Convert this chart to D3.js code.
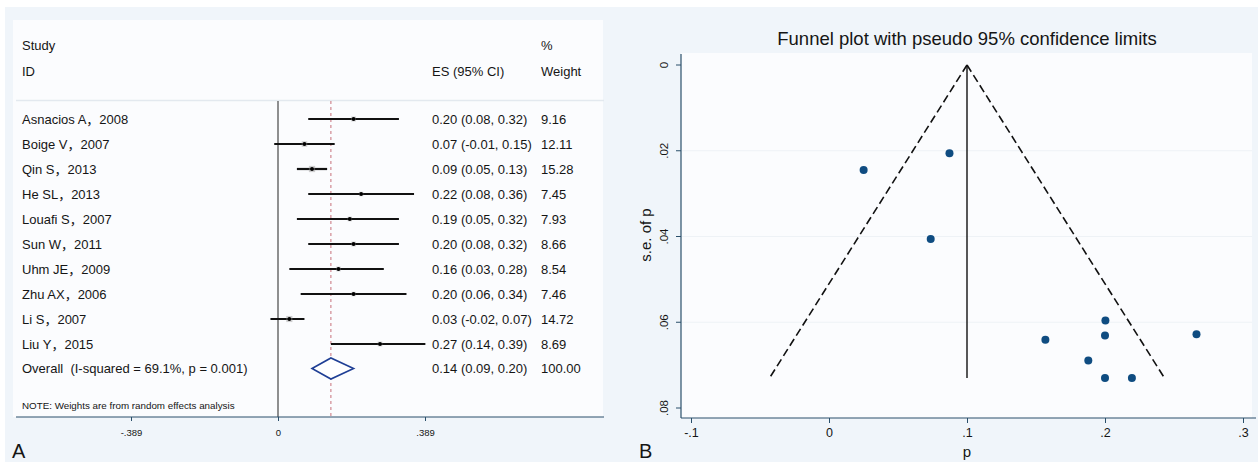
<html>
<head>
<meta charset="utf-8">
<script src="https://cdn.jsdelivr.net/npm/d3@7"></script>
<style>
  body { margin: 0; background: #fff; }
  text { font-family: "Liberation Sans", Arial, "Noto Sans CJK SC", sans-serif; fill: #151515; white-space: pre; }
</style>
</head>
<body>
<svg id="chart" width="1258" height="462"></svg>
<script>
// ---- data: forest plot (panel A)
var studies = ["Asnacios A，2008", "Boige V，2007", "Qin S，2013", "He SL，2013", "Louafi S，2007",
               "Sun W，2011", "Uhm JE，2009", "Zhu AX，2006", "Li S，2007", "Liu Y，2015"];
var es     = [0.20, 0.07, 0.09, 0.22, 0.19, 0.20, 0.16, 0.20, 0.03, 0.27];
var ciLow  = [0.08, -0.01, 0.05, 0.08, 0.05, 0.08, 0.03, 0.06, -0.02, 0.14];
var ciHigh = [0.32, 0.15, 0.13, 0.36, 0.32, 0.32, 0.28, 0.34, 0.07, 0.39];
var weight = [9.16, 12.11, 15.28, 7.45, 7.93, 8.66, 8.54, 7.46, 14.72, 8.69];
var overall = { es: 0.14, lo: 0.09, hi: 0.20, weight: 100.00, i2: "69.1%", p: "0.001" };
var forestTicks = [-0.389, 0, 0.389];

// ---- data: funnel plot (panel B)
var funnelP  = [0.0251, 0.0873, 0.0737, 0.2003, 0.2000, 0.1568, 0.2663, 0.1879, 0.2000, 0.2195];
var funnelSE = [0.0245, 0.0206, 0.0406, 0.0596, 0.0631, 0.0641, 0.0628, 0.0689, 0.0730, 0.0730];
var pooledP = 0.1;
var maxSE = 0.073;
var funnelXTicks = [-0.1, 0, 0.1, 0.2, 0.3];
var funnelYTicks = [0, 0.02, 0.04, 0.06, 0.08];

var svg = d3.select("#chart");
var FONT = "Liberation Sans, Arial, sans-serif";
// hyphen instead of d3's unicode minus
var fix = function(s) { return s.replace(/\u2212/g, "-"); };

// backgrounds
svg.append("rect").attr("x", 5).attr("y", 7).attr("width", 1253).attr("height", 455).attr("fill", "#f0f5fa");
svg.append("rect").attr("x", 13).attr("y", 20).attr("width", 590).attr("height", 397).attr("fill", "#fbfcfe");
svg.append("rect").attr("x", 681).attr("y", 53).attr("width", 571).attr("height", 365).attr("fill", "#fbfcfe");

// ================= panel A =================
var fx = d3.scaleLinear().domain([-0.389, 0.389]).range([131, 425]);
var rowY = d3.scaleLinear().domain([0, 1]).range([119, 144]);
var f2 = function(v) { return fix(d3.format(".2f")(v)); };
var fTick = function(d) { return d === 0 ? "0" : fix(d3.format(".3f")(d)).replace("0.", "."); };
var FS = 13;

var A = svg.append("g");

A.append("text").attr("x", 22).attr("y", 50).attr("font-size", FS).text("Study");
A.append("text").attr("x", 22).attr("y", 76).attr("font-size", FS).text("ID");
A.append("text").attr("x", 432).attr("y", 76).attr("font-size", FS).text("ES (95% CI)");
A.append("text").attr("x", 541).attr("y", 50).attr("font-size", FS).text("%");
A.append("text").attr("x", 541).attr("y", 76).attr("font-size", FS).text("Weight");

A.append("line").attr("x1", 16).attr("x2", 604).attr("y1", 100.5).attr("y2", 100.5)
  .attr("stroke", "#e3e9ef").attr("stroke-width", 1.5);

// null line and overall line
A.append("line").attr("x1", fx(0)).attr("x2", fx(0)).attr("y1", 101).attr("y2", 417)
  .attr("stroke", "#222").attr("stroke-width", 1);
A.append("line").attr("x1", fx(overall.es)).attr("x2", fx(overall.es)).attr("y1", 101).attr("y2", 417)
  .attr("stroke", "#c8707a").attr("stroke-width", 1).attr("stroke-dasharray", "3,3");

var rows = A.selectAll("g.row").data(studies).enter().append("g").attr("class", "row");
rows.append("line")
  .attr("x1", function(d, i) { return fx(ciLow[i]); })
  .attr("x2", function(d, i) { return fx(ciHigh[i]); })
  .attr("y1", function(d, i) { return rowY(i); })
  .attr("y2", function(d, i) { return rowY(i); })
  .attr("stroke", "#111").attr("stroke-width", 2.2);
rows.append("rect")
  .attr("x", function(d, i) { return fx(es[i]) - Math.sqrt(weight[i]) * 0.8; })
  .attr("y", function(d, i) { return rowY(i) - Math.sqrt(weight[i]) * 0.8; })
  .attr("width", function(d, i) { return Math.sqrt(weight[i]) * 1.6; })
  .attr("height", function(d, i) { return Math.sqrt(weight[i]) * 1.6; })
  .attr("fill", "#9a9a9a").attr("opacity", 0.45);
rows.append("circle")
  .attr("cx", function(d, i) { return fx(es[i]); })
  .attr("cy", function(d, i) { return rowY(i); })
  .attr("r", 1.9).attr("fill", "#000");
rows.append("text").attr("x", 22).attr("y", function(d, i) { return rowY(i) + 4.5; })
  .attr("font-size", FS).text(function(d) { return d; });
rows.append("text").attr("x", 432).attr("y", function(d, i) { return rowY(i) + 4.5; })
  .attr("font-size", FS)
  .text(function(d, i) { return f2(es[i]) + " (" + f2(ciLow[i]) + ", " + f2(ciHigh[i]) + ")"; });
rows.append("text").attr("x", 541).attr("y", function(d, i) { return rowY(i) + 4.5; })
  .attr("font-size", FS).text(function(d, i) { return f2(weight[i]); });

// overall row
var oy = rowY(studies.length) - 0.5;
A.append("polygon")
  .attr("points", [[fx(overall.lo), oy], [fx(overall.es), oy - 10.5], [fx(overall.hi), oy], [fx(overall.es), oy + 10.5]].join(" "))
  .attr("fill", "#fff").attr("stroke", "#1f3f95").attr("stroke-width", 1.6);
A.append("text").attr("x", 22).attr("y", oy + 4.5).attr("font-size", FS)
  .text("Overall  (I-squared = " + overall.i2 + ", p = " + overall.p + ")");
A.append("text").attr("x", 432).attr("y", oy + 4.5).attr("font-size", FS)
  .text(f2(overall.es) + " (" + f2(overall.lo) + ", " + f2(overall.hi) + ")");
A.append("text").attr("x", 541).attr("y", oy + 4.5).attr("font-size", FS).text(f2(overall.weight));

A.append("text").attr("x", 22).attr("y", 409).attr("font-size", 9.8)
  .text("NOTE: Weights are from random effects analysis");

// axis
A.append("line").attr("x1", 16).attr("x2", 604).attr("y1", 417).attr("y2", 417)
  .attr("stroke", "#2a4f6a").attr("stroke-width", 1.2);
var ax = A.append("g").attr("transform", "translate(0,417)")
  .call(d3.axisBottom(fx).tickValues(forestTicks).tickFormat(fTick).tickSize(4).tickPadding(8));
ax.select(".domain").remove();
ax.selectAll("line").attr("stroke", "#2a4f6a");
ax.selectAll("text").attr("font-size", 9.5).style("font-family", FONT).attr("fill", "#151515");

A.append("text").attr("x", 12).attr("y", 458).attr("font-size", 20).text("A");

// ================= panel B =================
var px = d3.scaleLinear().domain([-0.1, 0.3]).range([691, 1243]);
var py = d3.scaleLinear().domain([0, 0.08]).range([65, 408]);
var B = svg.append("g");

B.append("text").attr("x", px(0.1)).attr("y", 45).attr("text-anchor", "middle")
  .attr("font-size", 18.5).text("Funnel plot with pseudo 95% confidence limits");

// faint grid
B.selectAll("line.grid").data(funnelYTicks.slice(1, 4)).enter().append("line").attr("class", "grid")
  .attr("x1", 682).attr("x2", 1252).attr("y1", function(d) { return py(d); }).attr("y2", function(d) { return py(d); })
  .attr("stroke", "#eef2f6").attr("stroke-width", 1);

// funnel
B.append("line").attr("x1", px(pooledP)).attr("x2", px(pooledP)).attr("y1", py(0)).attr("y2", py(maxSE))
  .attr("stroke", "#111").attr("stroke-width", 1.4);
[-1, 1].forEach(function(s) {
  B.append("line")
    .attr("x1", px(pooledP)).attr("y1", py(0))
    .attr("x2", px(pooledP + s * 1.96 * maxSE)).attr("y2", py(maxSE))
    .attr("stroke", "#111").attr("stroke-width", 1.6).attr("stroke-dasharray", "8,4");
});

B.selectAll("circle").data(funnelP).enter().append("circle")
  .attr("cx", function(d) { return px(d); })
  .attr("cy", function(d, i) { return py(funnelSE[i]); })
  .attr("r", 4).attr("fill", "#0f4c81");

// axes
B.append("line").attr("x1", 681).attr("x2", 681).attr("y1", 54).attr("y2", 418)
  .attr("stroke", "#2a4f6a").attr("stroke-width", 1.2);
B.append("line").attr("x1", 681).attr("x2", 1256).attr("y1", 418).attr("y2", 418)
  .attr("stroke", "#2a4f6a").attr("stroke-width", 1.2);

var tickFmt = function(d) { return d === 0 ? "0" : fix(d3.format(".2~f")(d)).replace("0.", "."); };
var bx = B.append("g").attr("transform", "translate(0,418)")
  .call(d3.axisBottom(px).tickValues(funnelXTicks).tickFormat(tickFmt).tickSize(5).tickPadding(5));
bx.select(".domain").remove();
bx.selectAll("line").attr("stroke", "#2a4f6a");
bx.selectAll("text").attr("font-size", 12.5).style("font-family", FONT).attr("fill", "#151515");

var by = B.append("g").attr("transform", "translate(681,0)")
  .call(d3.axisLeft(py).tickValues(funnelYTicks).tickFormat(tickFmt).tickSize(5).tickPadding(3));
by.select(".domain").remove();
by.selectAll(".tick").attr("transform", null);
by.selectAll(".tick line").attr("stroke", "#2a4f6a")
  .attr("y1", function(d) { return py(d); }).attr("y2", function(d) { return py(d); });
by.selectAll("text").attr("font-size", 11.5).style("font-family", FONT).attr("fill", "#151515")
  .attr("x", -17).attr("y", function(d) { return py(d); })
  .attr("dy", "0.35em").attr("text-anchor", "middle")
  .attr("transform", function(d) { return "rotate(-90," + (-17) + "," + py(d) + ")"; });

B.append("text").attr("transform", "translate(651,235) rotate(-90)").attr("text-anchor", "middle")
  .attr("font-size", 15).text("s.e. of p");
B.append("text").attr("x", px(0.1)).attr("y", 457).attr("text-anchor", "middle")
  .attr("font-size", 15).text("p");
B.append("text").attr("x", 639).attr("y", 458).attr("font-size", 20).text("B");
</script>
</body>
</html>
